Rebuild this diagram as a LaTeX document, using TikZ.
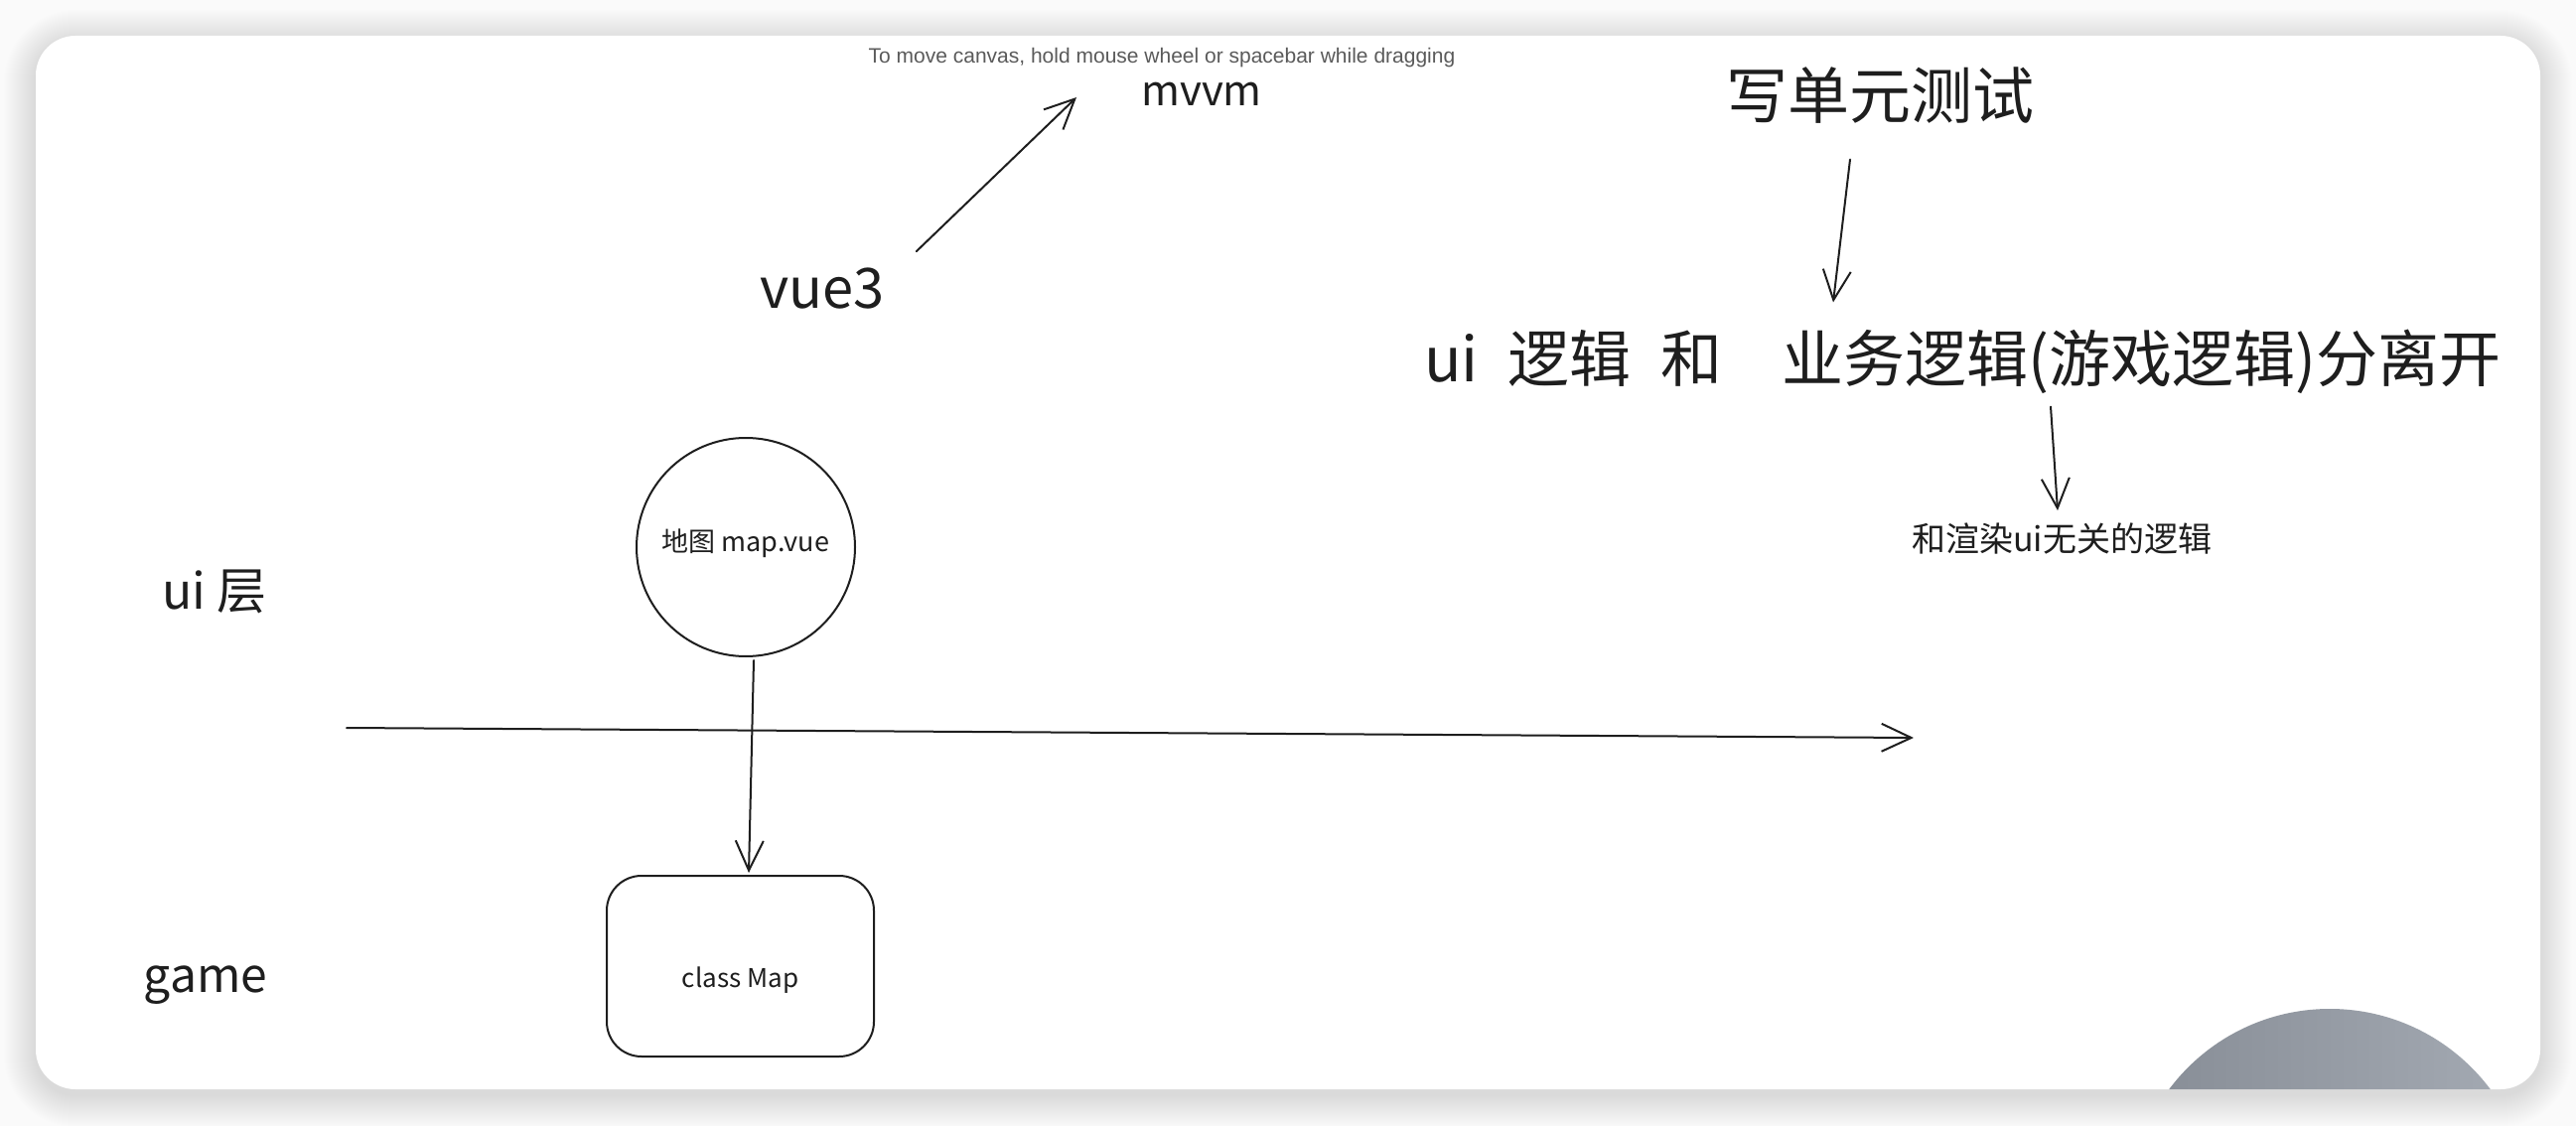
\documentclass[tikz,border=0pt]{standalone}
\usepackage{fontspec}
\setmainfont{Noto Sans CJK SC}
\newfontfamily\hintfont{Liberation Sans}
\usetikzlibrary{arrows.meta,shapes.geometric}
\definecolor{bgc}{HTML}{FAFAFA}
\definecolor{ink}{HTML}{1E1E1E}
\definecolor{hint}{HTML}{5A5A5A}
\definecolor{knobA}{HTML}{868C95}
\definecolor{knobB}{HTML}{A5ABB4}
\newcommand{\fsz}[1]{\fontsize{#1}{#1}\selectfont}
\begin{document}
\begin{tikzpicture}[x=1pt,y=-1pt,
  lbl/.style={inner sep=0pt, text=ink},
  conn/.style={draw=ink, line width=2pt, line cap=round,
    -{Straight Barb[length=30pt,width=28pt,line width=2pt]}},
  shapeline/.style={draw=ink, line width=2pt}
]
\useasboundingbox (0,0) rectangle (2594,1134);
\fill[bgc] (0,0) rectangle (2594,1134);
\foreach \i [evaluate=\i as \r using 40+\i] in {1,...,32}
  \fill[black,opacity=0.0035,rounded corners=\r pt] (36-\i,36-\i+6) rectangle (2558+\i,1097+\i+6);
\fill[white, rounded corners=40pt] (36,36) rectangle (2558,1097);
\begin{scope}
  \clip[rounded corners=40pt] (36,36) rectangle (2558,1097);
  \shade[left color=knobA, right color=knobB] (2346,1218) circle (202pt);
\end{scope}

\node[lbl, text=hint, font=\hintfont\fsz{21}] (hint) at (1170,58) {To move canvas, hold mouse wheel or spacebar while dragging};
\node[lbl, font=\fsz{42}] (mvvm) at (1210,95) {mvvm};
\node[lbl, font=\fsz{56}] (vue3) at (828,291) {vue3};
\node[lbl, font=\fsz{62}] (write) at (1893,96) {写单元测试};
\node[lbl, font=\fsz{62}, anchor=west] (sep) at (1434,364) {ui\hspace{30pt}逻辑\hspace{30pt}和\hspace{60pt}业务逻辑(游戏逻辑)分离开};
\node[lbl, font=\fsz{34}] (render) at (2076,543) {和渲染ui无关的逻辑};
\node[lbl, font=\fsz{50}] (uilayer) at (216,596) {ui 层};
\node[lbl, font=\fsz{48}] (game) at (207,992) {game};
\node[shapeline, circle, minimum size=220pt, inner sep=0pt, text=ink, font=\fsz{27},
  text height=24pt, text depth=15pt] (mapvue) at (751,551) {地图 map.vue};
\node[shapeline, rounded corners=35pt, minimum width=269pt, minimum height=182pt, text=ink, font=\fsz{26},
  text height=45pt, text depth=3pt] (classmap) at (745.5,973) {class Map};

\draw[conn] ([xshift=32pt,yshift=17pt]vue3.north east) -- ([xshift=-65pt,yshift=-3pt]mvvm.west);
\draw[conn] ([xshift=-30pt,yshift=-36pt]write.south) -- ([xshift=412pt,yshift=27pt]sep.north west);
\draw[conn] ([xshift=631pt,yshift=-13pt]sep.south west) -- ([xshift=-4pt,yshift=13pt]render.north);
\draw[conn] ([xshift=8pt,yshift=-3pt]mapvue.south) -- ([xshift=8.5pt,yshift=2pt]classmap.north);
\coordinate (hl0) at (349,733);
\coordinate (hl1) at (1927,743);
\draw[conn] (hl0) -- (hl1);
\end{tikzpicture}
\end{document}
